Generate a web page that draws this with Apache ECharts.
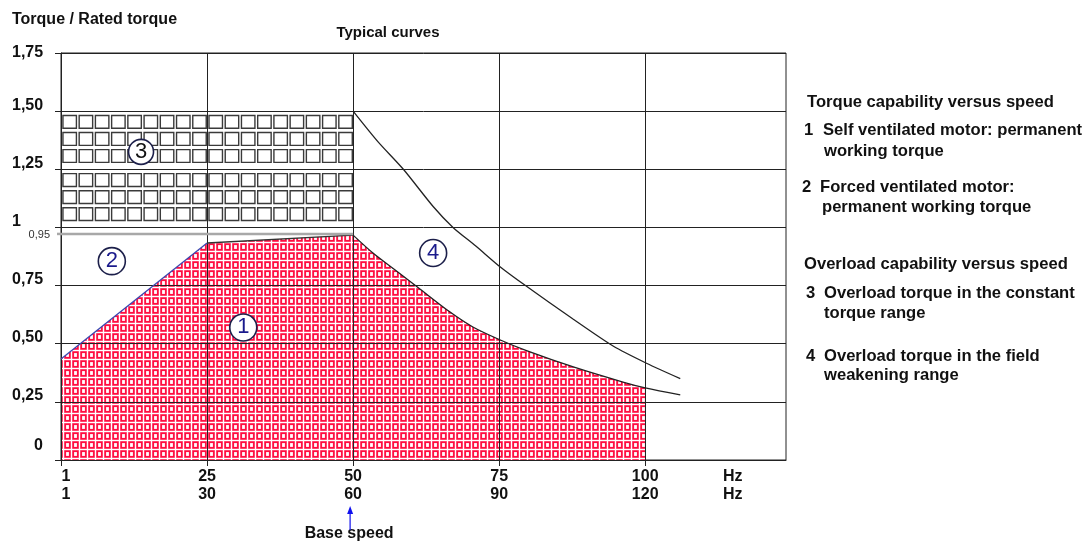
<!DOCTYPE html>
<html><head><meta charset="utf-8">
<script src="https://cdn.jsdelivr.net/npm/echarts@6/dist/echarts.min.js"></script>
<style>html,body{margin:0;padding:0;background:#fff}#c{width:1085px;height:542px}</style>
</head><body><div id="c"></div>
<script>
// ---------- data ----------
const xTickValues = [0, 25, 50, 75, 100];
const xTickTop = ['1', '25', '50', '75', '100'];
const xTickBottom = ['1', '30', '60', '90', '120'];
const xUnitLabel = ['Hz', 'Hz'];
const yTickLabels = ['0', '0,25', '0,50', '0,75', '1', '1,25', '1,50', '1,75'];

// curve 1: self ventilated motor, permanent working torque
const curve1Rise = [[0, 0.434], [25, 0.933], [50, 0.967]];
const curve1Fall = [[50, 0.967], [53.4, 0.89], [57.2, 0.817], [61, 0.744], [66.6, 0.636], [70.5, 0.572],
  [75.2, 0.516], [79.8, 0.469], [87.7, 0.40], [96.2, 0.335], [100, 0.31], [106, 0.28]];
const curve1FillEnd = 100;
// curve 2: forced ventilated motor
const curve2 = [[0, 0.972], [50, 0.972]];
const curve2Label = '0,95';
// zone 3: overload torque in the constant torque range
const zone3X = [0, 50];
const zone3Y = [1.0, 1.5];
// curve 4: overload torque in the field weakening range
const curve4 = [[50, 1.5], [54.2, 1.37], [58.6, 1.25], [63.7, 1.09], [67.1, 1.0], [71, 0.92], [75.2, 0.83], [79.5, 0.75],
  [87.7, 0.605], [94.5, 0.49], [100.3, 0.415], [106, 0.35]];
// circled markers
const markers = [[31.2, 0.57, '1'], [8.7, 0.855, '2'], [13.7, 1.325, '3'], [63.7, 0.89, '4']];

const titleText = 'Typical curves';
const yName = 'Torque / Rated torque';
const baseSpeedText = 'Base speed';
const legendRows = [
  ['', 'Torque capability versus speed'],
  ['1', 'Self ventilated motor: permanent'],
  ['', 'working torque'],
  ['2', 'Forced ventilated motor:'],
  ['', 'permanent working torque'],
  ['', 'Overload capability versus speed'],
  ['3', 'Overload torque in the constant'],
  ['', 'torque range'],
  ['4', 'Overload torque in the field'],
  ['', 'weakening range']
];

// ---------- layout ----------
const FONT = '"Liberation Sans", Arial, sans-serif';
const legendLayout = [
  {y: 102, tx: 807}, {y: 130, nx: 804, tx: 823}, {y: 151, tx: 824},
  {y: 187, nx: 802, tx: 820}, {y: 207, tx: 822},
  {y: 264, tx: 804}, {y: 293, nx: 806, tx: 824}, {y: 313, tx: 824},
  {y: 356, nx: 806, tx: 824}, {y: 375, tx: 824}
];
const HZ_POS = 115;
const LEG_FONT = 'bold 16.6px ' + FONT;

function redTile() {
  const c = document.createElement('canvas');
  c.width = 8; c.height = 9;
  const g = c.getContext('2d');
  g.fillStyle = '#ffffff'; g.fillRect(0, 0, 8, 9);
  g.fillStyle = '#ff8aa8'; g.fillRect(0, 0, 7, 8);
  g.strokeStyle = '#ff0a3c'; g.lineWidth = 1.5; g.strokeRect(1.2, 1.2, 4.6, 5.6);
  g.fillStyle = '#ffffff'; g.fillRect(2.2, 2.2, 2.6, 3.6);
  return c;
}
const redFill = {image: redTile(), repeat: 'repeat'};

const chart = echarts.init(document.getElementById('c'), null, {renderer: 'canvas'});

const option = {
  backgroundColor: '#fff',
  animation: false,
  grid: {left: 61, top: 53, width: 725, height: 407, show: true, borderColor: '#222', borderWidth: 1, backgroundColor: 'transparent'},
  xAxis: {
    type: 'value', min: 0, max: 124.1, interval: 25, z: 5,
    axisLine: {show: true, lineStyle: {color: '#222', width: 1}},
    axisTick: {show: true, length: 6, lineStyle: {color: '#222'}, customValues: xTickValues},
    splitLine: {show: true, lineStyle: {color: '#222', width: 1}},
    axisLabel: {
      customValues: xTickValues.concat([HZ_POS]),
      margin: 8, lineHeight: 18,
      fontFamily: FONT, fontWeight: 'bold', fontSize: 16, color: '#111',
      formatter: function (v) {
        if (Math.abs(v - HZ_POS) < 1e-6) return xUnitLabel[0] + '\n' + xUnitLabel[1];
        const i = xTickValues.indexOf(v);
        if (i < 0) return '';
        if (i === 0) return '{f|' + xTickTop[i] + '}\n{f|' + xTickBottom[i] + '}';
        return xTickTop[i] + '\n' + xTickBottom[i];
      },
      rich: {f: {padding: [0, 0, 0, 10], fontFamily: FONT, fontWeight: 'bold', fontSize: 16, color: '#111', lineHeight: 18}}
    }
  },
  yAxis: {
    type: 'value', min: 0, max: 1.75, interval: 0.25, z: 5,
    axisLine: {show: true, lineStyle: {color: '#222', width: 1}},
    axisTick: {show: true, length: 6, lineStyle: {color: '#222'}},
    splitLine: {show: true, lineStyle: {color: '#222', width: 1}},
    axisLabel: {
      align: 'left', margin: 49,
      fontFamily: FONT, fontWeight: 'bold', fontSize: 16, color: '#111',
      formatter: function (v) {
        const i = Math.round(v / 0.25);
        const t = yTickLabels[i];
        if (i === 0) return '{z|' + t + '}';
        if (i === 7) return '{t|' + t + '}';
        return '{n|' + t + '}';
      },
      rich: {
        n: {padding: [0, 0, 12, 0], fontFamily: FONT, fontWeight: 'bold', fontSize: 16, color: '#111'},
        t: {fontFamily: FONT, fontWeight: 'bold', fontSize: 16, color: '#111'},
        z: {padding: [0, 0, 28, 22], fontFamily: FONT, fontWeight: 'bold', fontSize: 16, color: '#111'}
      }
    }
  },
  series: [
    {
      type: 'custom', z: 2, silent: true,
      data: [[zone3X[0], zone3X[1], zone3Y[0], zone3Y[1]]],
      renderItem: function (params, api) {
        const x0 = api.value(0), x1 = api.value(1), y0 = api.value(2), y1 = api.value(3);
        const children = [];
        const stepX = 25 / 9;
        const band = 0.25;
        for (let b = y0; b < y1 - 1e-9; b += band) {
          const top = api.coord([x0, b + band])[1];
          const bot = api.coord([x0, b])[1];
          const bh = bot - top;
          for (let r = 0; r < 3; r++) {
            const ry = top + bh * (0.075 + r * 0.293);
            const rh = bh * 0.22;
            for (let cx = x0; cx < x1 - 1e-9; cx += stepX) {
              const px0 = api.coord([cx, b])[0];
              const px1 = api.coord([cx + stepX, b])[0];
              const w = px1 - px0;
              children.push({
                type: 'rect',
                shape: {x: px0 + w * 0.12, y: ry, width: w * 0.83, height: rh},
                style: {fill: '#fff', stroke: '#3a3a3a', lineWidth: 1.4}
              });
            }
          }
        }
        return {type: 'group', children: children};
      }
    },
    {
      type: 'line', z: 2, silent: true, symbol: 'none',
      data: curve1Rise,
      lineStyle: {width: 0},
      areaStyle: {color: redFill, opacity: 1}
    },
    {
      type: 'line', z: 2, silent: true, symbol: 'none', smooth: 0.3,
      data: curve1Fall.filter(p => p[0] <= curve1FillEnd),
      lineStyle: {width: 0},
      areaStyle: {color: redFill, opacity: 1}
    },
    {
      type: 'line', z: 6, silent: true, symbol: 'none',
      data: curve1Rise.filter(p => p[0] >= 25),
      lineStyle: {color: '#333', width: 1.3}
    },
    {
      type: 'line', z: 6, silent: true, symbol: 'none', smooth: 0.3,
      data: curve1Fall,
      lineStyle: {color: '#222', width: 1.3}
    },
    {
      type: 'line', z: 7, silent: true, symbol: 'none',
      data: curve1Rise.filter(p => p[0] <= 25),
      lineStyle: {color: '#3a46b0', width: 1.3}
    },
    {
      type: 'line', z: 6, silent: true, symbol: 'none',
      data: curve2,
      lineStyle: {color: '#a8a8a8', width: 2.5}
    },
    {
      type: 'line', z: 6, silent: true, symbol: 'none', smooth: 0.25,
      data: curve4,
      lineStyle: {color: '#222', width: 1.3}
    },
    {
      type: 'scatter', z: 10, silent: true,
      data: markers.map(m => ({
        value: [m[0], m[1]],
        symbolSize: m[2] === '3' ? 25 : 27,
        label: {color: m[2] === '3' ? '#111' : '#1a1a8c'},
        name: m[2]
      })),
      symbol: 'circle',
      itemStyle: {color: '#fff', borderColor: '#1c1f4a', borderWidth: 1.6, opacity: 1},
      label: {show: true, position: 'inside', formatter: p => p.name, fontFamily: FONT, fontSize: 22}
    }
  ]
};
chart.setOption(option);

// annotations
const base = chart.convertToPixel({gridIndex: 0}, [50, 0]);
const p95 = chart.convertToPixel({gridIndex: 0}, curve2[0]);
const graphics = [
  {type: 'text', x: 388, y: 33, style: {text: titleText, align: 'center', verticalAlign: 'middle', font: 'bold 15px ' + FONT, fill: '#111'}},
  {type: 'text', x: 12, y: 20, style: {text: yName, align: 'left', verticalAlign: 'middle', font: 'bold 16px ' + FONT, fill: '#111'}},
  {type: 'text', x: p95[0] - 11, y: p95[1] + 1, style: {text: curve2Label, align: 'right', verticalAlign: 'middle', font: '11px ' + FONT, fill: '#333'}},
  {type: 'line', shape: {x1: p95[0] - 4, y1: p95[1], x2: p95[0], y2: p95[1]}, style: {stroke: '#a8a8a8', lineWidth: 2.5}},
  {type: 'text', x: base[0] - 4, y: base[1] + 74, style: {text: baseSpeedText, align: 'center', verticalAlign: 'middle', font: 'bold 16px ' + FONT, fill: '#111'}},
  {type: 'line', shape: {x1: base[0] - 3, y1: base[1] + 70, x2: base[0] - 3, y2: base[1] + 52}, style: {stroke: '#1010ee', lineWidth: 1.2}},
  {type: 'polygon', shape: {points: [[base[0] - 3, base[1] + 46], [base[0] - 6, base[1] + 54], [base[0], base[1] + 54]]}, style: {fill: '#1010ee'}}
];
legendRows.forEach((row, i) => {
  const L = legendLayout[i];
  if (row[0]) graphics.push({type: 'text', x: L.nx, y: L.y, style: {text: row[0], align: 'left', verticalAlign: 'middle', font: LEG_FONT, fill: '#111'}});
  graphics.push({type: 'text', x: L.tx, y: L.y, style: {text: row[1], align: 'left', verticalAlign: 'middle', font: LEG_FONT, fill: '#111'}});
});
chart.setOption({graphic: graphics});
</script>
</body></html>
